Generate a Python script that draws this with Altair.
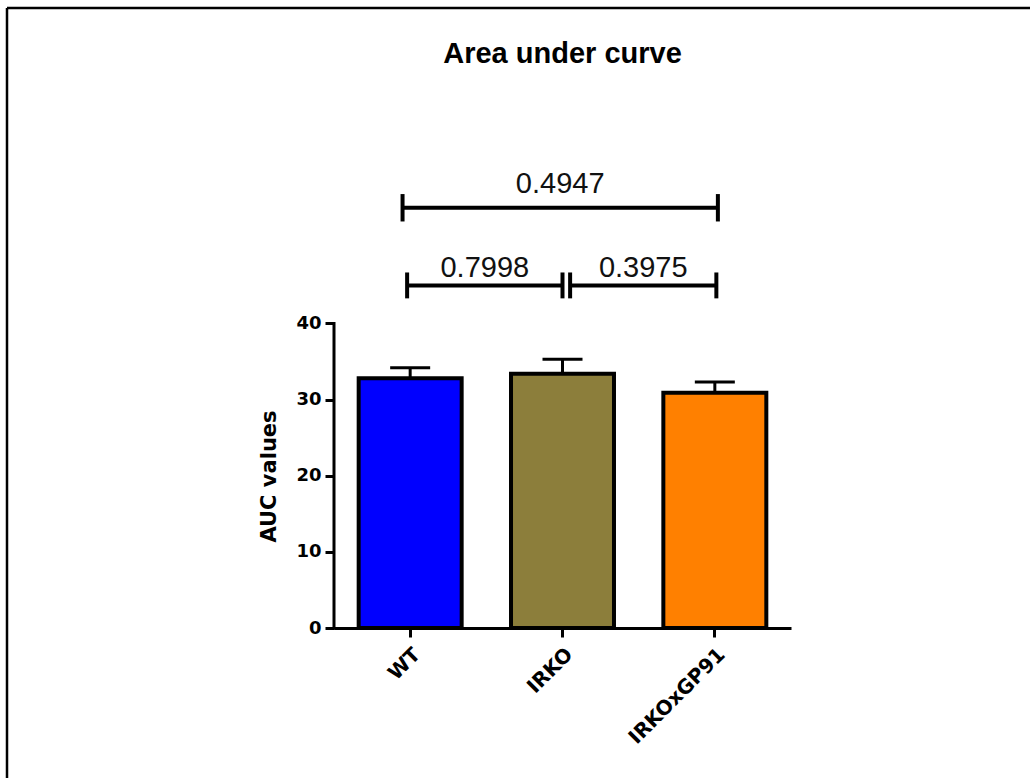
import altair as alt
import pandas as pd

# Group means and SEM of the area under the curve
groups = ["WT", "IRKO", "IRKOxGP91"]
auc_mean = [32.8, 33.4, 30.9]
auc_sem = [1.4, 1.9, 1.4]
bar_colors = ["#0000FF", "#8C7E3B", "#FF8000"]

# Pairwise comparisons: p-value, bracket ends (in group-index units),
# bracket height, half height of the end ticks, label baseline
cmp_p = ["0.4947", "0.7998", "0.3975"]
cmp_start = [-0.05, -0.02, 1.05]
cmp_end = [2.02, 1.0, 2.01]
cmp_level = [55.2, 45.0, 45.0]
cmp_tick = [1.8, 1.7, 1.7]
cmp_label_y = [57.1, 46.1, 46.1]

y_ticks = [0, 10, 20, 30, 40]

bars_df = pd.DataFrame({
    "group": groups,
    "mean": auc_mean,
    "upper": [m + s for m, s in zip(auc_mean, auc_sem)],
})
cmp_df = pd.DataFrame({
    "p": cmp_p,
    "start": cmp_start,
    "end": cmp_end,
    "level": cmp_level,
    "lo": [l - t for l, t in zip(cmp_level, cmp_tick)],
    "hi": [l + t for l, t in zip(cmp_level, cmp_tick)],
    "mid": [(a + b) / 2 for a, b in zip(cmp_start, cmp_end)],
    "label_y": cmp_label_y,
})

Y_SCALE = alt.Scale(domain=[0, 62], nice=False, zero=True)
XQ = alt.Scale(domain=[-0.5, 2.5], nice=False, zero=False)
TICK_FONT = "DejaVu Sans"

# one shared y axis definition, used by every layer on the y scale
Y_AXIS = alt.Axis(
    values=y_ticks,
    domain=False,
    grid=False,
    title="AUC values",
    titleFont=TICK_FONT,
    titleFontWeight="bold",
    titleFontSize=21,
    titleColor="black",
    titleAngle=-90,
    titleX=-59,
    titleY=320,
    titleAlign="center",
    titleBaseline="alphabetic",
    labelFont=TICK_FONT,
    labelFontWeight="bold",
    labelFontSize=18,
    labelColor="black",
    labelPadding=4,
    tickColor="black",
    tickWidth=3,
    tickSize=9,
)

x_band = alt.X(
    "group:N",
    sort=groups,
    scale=alt.Scale(paddingInner=0.324, paddingOuter=0.162),
    axis=alt.Axis(
        title=None,
        labelAngle=-45,
        labelAlign="right",
        labelBaseline="top",
        labelFont=TICK_FONT,
        labelFontWeight="bold",
        labelFontSize=20,
        labelColor="black",
        labelPadding=7,
        domainColor="black",
        domainWidth=3,
        tickColor="black",
        tickWidth=3,
        tickSize=9,
    ),
)

bars = alt.Chart(bars_df).mark_bar(stroke="black", strokeWidth=4).encode(
    x=x_band,
    y=alt.Y("mean:Q", scale=Y_SCALE, axis=Y_AXIS),
    color=alt.Color("group:N", scale=alt.Scale(domain=groups, range=bar_colors), legend=None),
)

err_line = alt.Chart(bars_df).mark_rule(color="black", strokeWidth=3, opacity=1).encode(
    x=alt.X("group:N", sort=groups),
    y=alt.Y("mean:Q", scale=Y_SCALE, axis=Y_AXIS),
    y2="upper:Q",
)
err_cap = alt.Chart(bars_df).mark_tick(
    color="black", thickness=3, size=40, orient="horizontal", opacity=1
).encode(
    x=alt.X("group:N", sort=groups),
    y=alt.Y("upper:Q", scale=Y_SCALE, axis=Y_AXIS),
)

# y axis line spanning only the labelled range
axis_line = alt.Chart(pd.DataFrame({"y0": [0], "y1": [40]})).mark_rule(
    color="black", strokeWidth=3, strokeCap="square"
).encode(
    x=alt.value(0),
    y=alt.Y("y0:Q", scale=Y_SCALE, axis=Y_AXIS),
    y2="y1:Q",
)

# outer frame lines
frame_df = pd.DataFrame({"k": [0]})
frame_left = alt.Chart(frame_df).mark_rule(color="black", strokeWidth=2.5).encode(
    x=alt.value(-327), y=alt.value(-148), y2=alt.value(640)
)
frame_top = alt.Chart(frame_df).mark_rule(color="black", strokeWidth=2.5).encode(
    x=alt.value(-327), x2=alt.value(710), y=alt.value(-148)
)

main = alt.layer(bars, err_line, err_cap, axis_line, frame_left, frame_top)

# significance brackets
br_h = alt.Chart(cmp_df).mark_rule(color="black", strokeWidth=4).encode(
    x=alt.X("start:Q", scale=XQ, axis=None),
    x2="end:Q",
    y=alt.Y("level:Q", scale=Y_SCALE, axis=Y_AXIS),
)
br_l = alt.Chart(cmp_df).mark_rule(color="black", strokeWidth=4).encode(
    x=alt.X("start:Q", scale=XQ, axis=None),
    y=alt.Y("lo:Q", scale=Y_SCALE, axis=Y_AXIS),
    y2="hi:Q",
)
br_r = alt.Chart(cmp_df).mark_rule(color="black", strokeWidth=4).encode(
    x=alt.X("end:Q", scale=XQ, axis=None),
    y=alt.Y("lo:Q", scale=Y_SCALE, axis=Y_AXIS),
    y2="hi:Q",
)
br_txt = alt.Chart(cmp_df).mark_text(
    font="Liberation Sans", fontSize=29, color="#111111",
    align="center", baseline="alphabetic",
).encode(
    x=alt.X("mid:Q", scale=XQ, axis=None),
    y=alt.Y("label_y:Q", scale=Y_SCALE, axis=Y_AXIS),
    text="p:N",
)
brackets = alt.layer(br_h, br_l, br_r, br_txt)

chart = alt.layer(main, brackets).resolve_scale(x="independent").properties(
    width=457,
    height=472,
    padding={"left": 334, "top": 156, "right": 239, "bottom": 150},
    autosize=alt.AutoSizeParams(type="none"),
    background="white",
    title=alt.TitleParams(
        "Area under curve",
        font="Liberation Sans",
        fontSize=29,
        fontWeight="bold",
        color="black",
        anchor="middle",
        offset=-62,
    ),
).configure_view(strokeWidth=0)

chart.save("out.html", embed_options={"renderer": "svg", "actions": False})
